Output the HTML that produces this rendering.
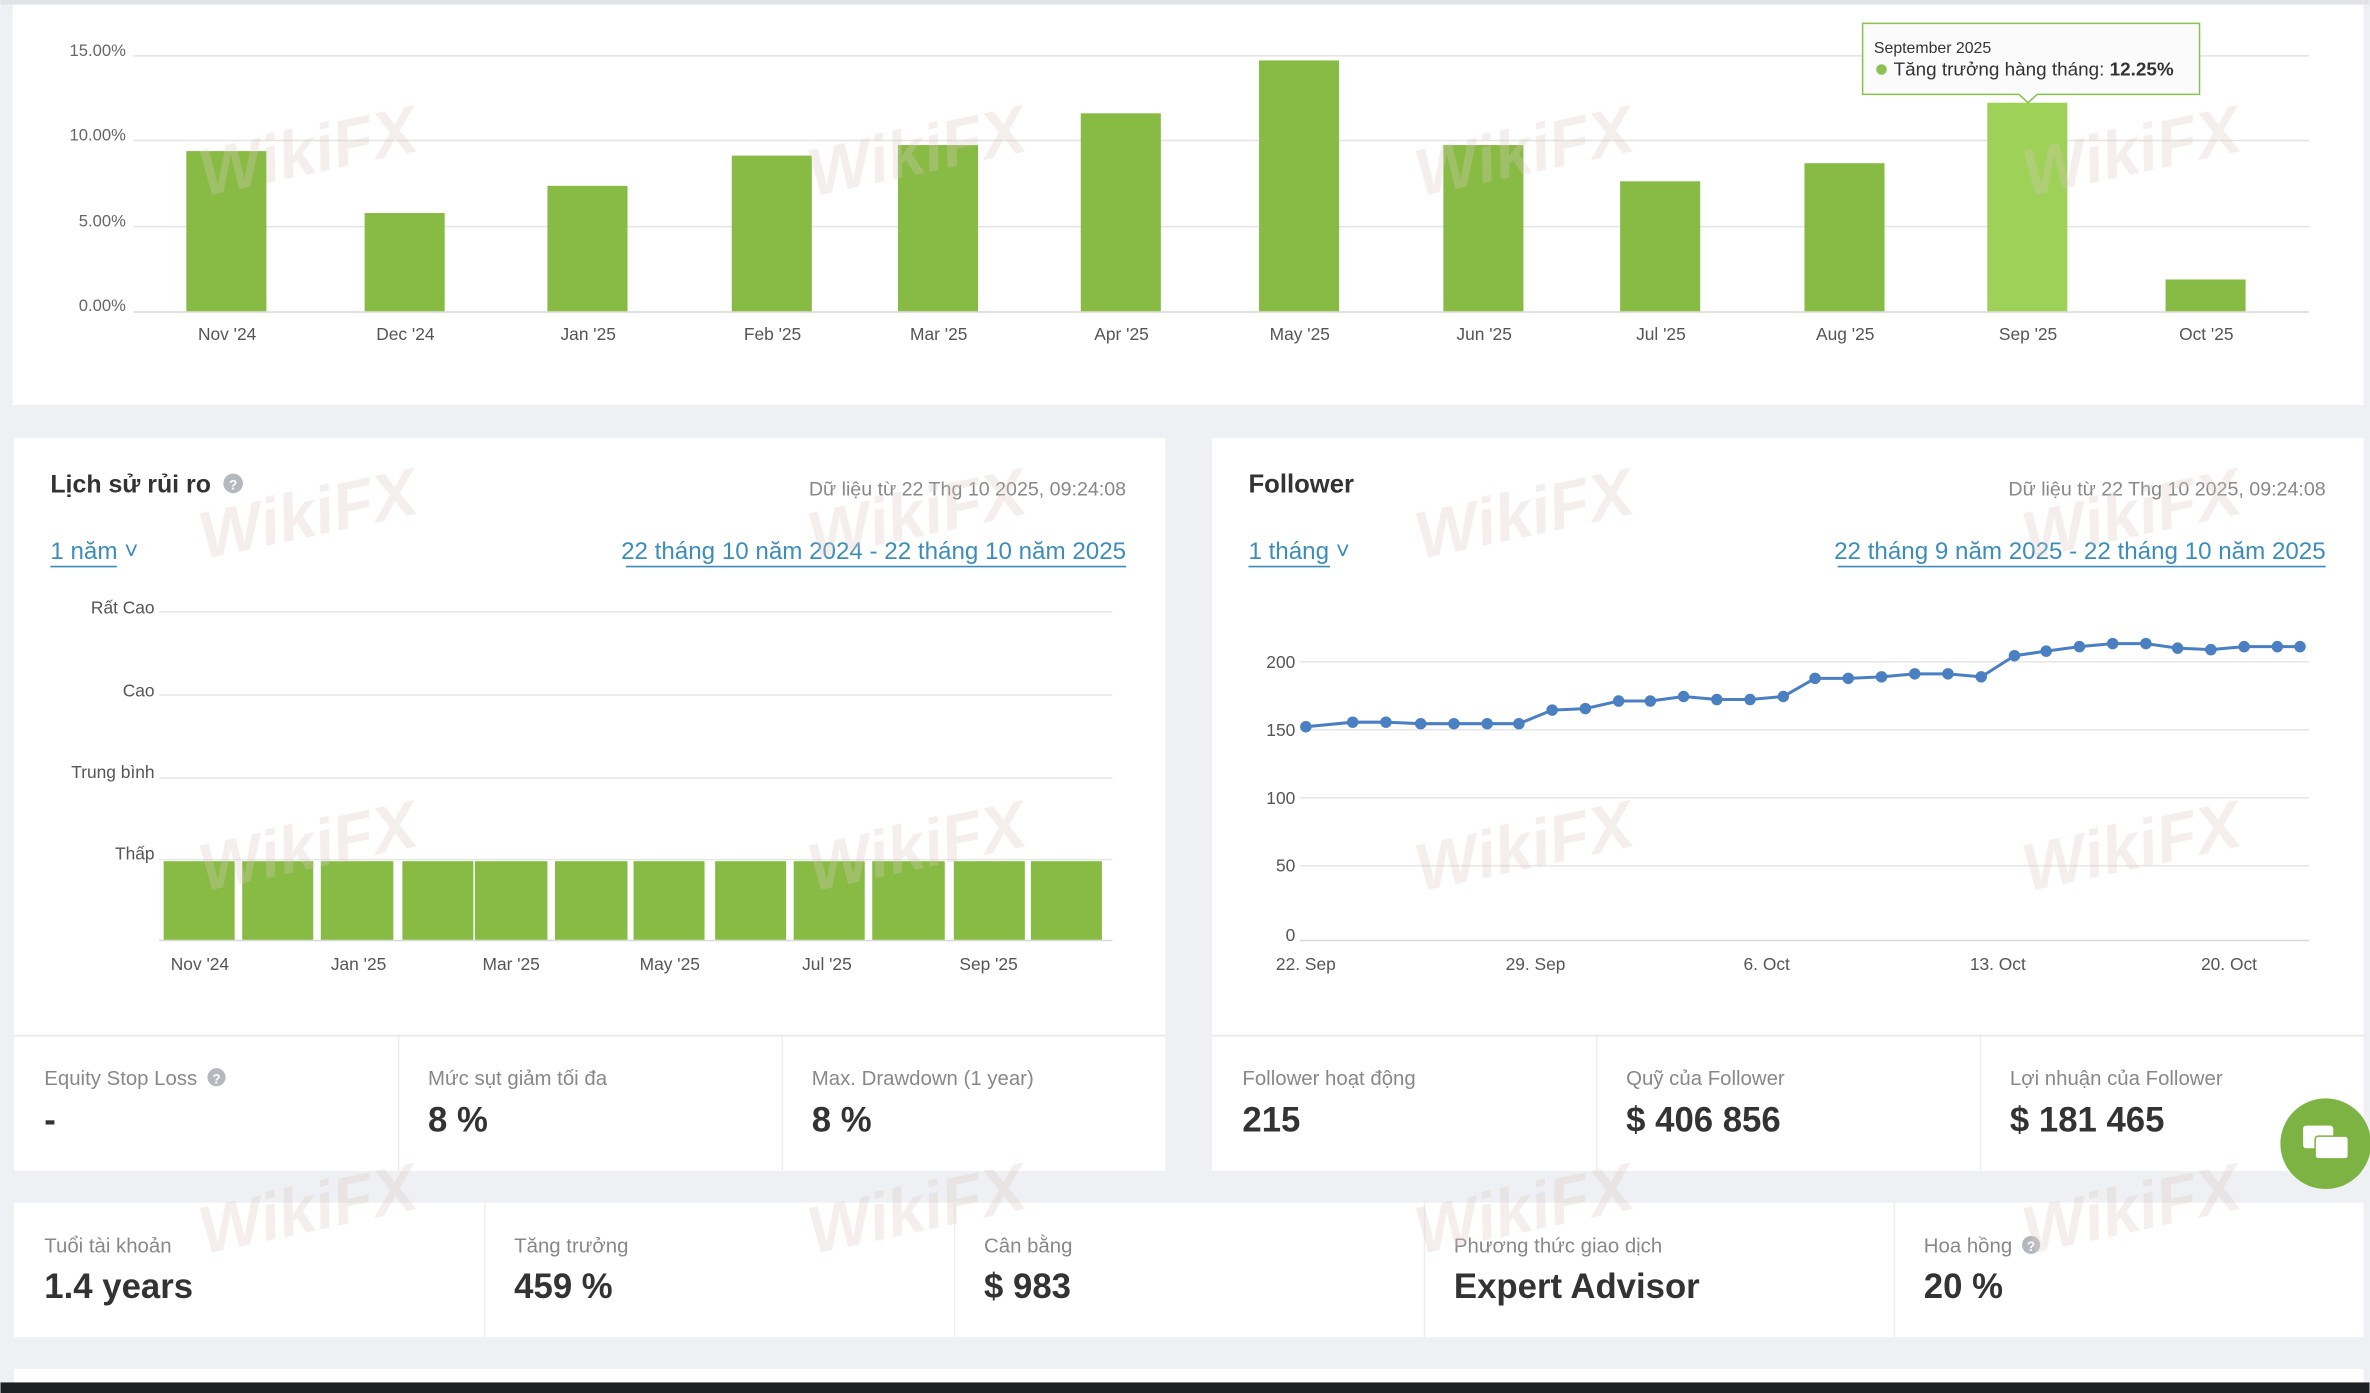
<!DOCTYPE html>
<html><head><meta charset="utf-8"><style>
html,body{margin:0;padding:0;background:#eef0f4;}
svg{display:block}
text{font-family:"Liberation Sans",sans-serif;}
</style></head><body>
<svg width="2370" height="1393" viewBox="0 0 1568 922" xmlns="http://www.w3.org/2000/svg">
<rect width="1568" height="922" fill="#eef0f4"/>
<rect x="8" y="0" width="1556" height="268" fill="#fff"/>
<rect x="0" y="0" width="1568" height="3" fill="#e2e3e6"/>
<g stroke="#e3e3e3" stroke-width="1">
<line x1="88" y1="37" x2="1528" y2="37"/><line x1="88" y1="93" x2="1528" y2="93"/>
<line x1="88" y1="150" x2="1528" y2="150"/><line x1="88" y1="206.5" x2="1528" y2="206.5" stroke="#d8d8d8"/>
</g>
<g font-size="11" fill="#666" text-anchor="end">
<text x="83" y="37">15.00%</text><text x="83" y="93">10.00%</text><text x="83" y="150">5.00%</text><text x="83" y="206">0.00%</text>
</g>
<g fill="#87bb44">
<rect x="123" y="100" width="53" height="106"/>
<rect x="241" y="141" width="53" height="65"/>
<rect x="362" y="123" width="53" height="83"/>
<rect x="484" y="103" width="53" height="103"/>
<rect x="594" y="96" width="53" height="110"/>
<rect x="715" y="75" width="53" height="131"/>
<rect x="833" y="40" width="53" height="166"/>
<rect x="955" y="96" width="53" height="110"/>
<rect x="1072" y="120" width="53" height="86"/>
<rect x="1194" y="108" width="53" height="98"/>
<rect x="1315" y="68" width="53" height="138" fill="#9dd157"/>
<rect x="1433" y="185" width="53" height="21"/>
</g>
<g font-size="11.5" fill="#555" text-anchor="middle">
<text x="150" y="225">Nov '24</text><text x="268" y="225">Dec '24</text><text x="389" y="225">Jan '25</text><text x="511" y="225">Feb '25</text><text x="621" y="225">Mar '25</text><text x="742" y="225">Apr '25</text><text x="860" y="225">May '25</text><text x="982" y="225">Jun '25</text><text x="1099" y="225">Jul '25</text><text x="1221" y="225">Aug '25</text><text x="1342" y="225">Sep '25</text><text x="1460" y="225">Oct '25</text>
</g>
<path d="M1232.5 15.5 H1455.5 V62.5 H1348 L1342 68 L1336 62.5 H1232.5 Z" fill="#fbfbfb" stroke="#8cc152" stroke-width="1"/>
<text x="1240" y="35" font-size="10.5" fill="#333">September 2025</text>
<circle cx="1245" cy="46" r="3.5" fill="#8cc152"/>
<text x="1253" y="50" font-size="12.5" fill="#333">Tăng trưởng hàng tháng: <tspan font-weight="bold">12.25%</tspan></text>

<rect x="9" y="290" width="762" height="485" fill="#fff"/>
<text x="33" y="326" font-size="16.5" fill="#333" font-weight="bold">Lịch sử rủi ro</text>
<circle cx="154" cy="320" r="6.5" fill="#b5b9bf"/><text x="154" y="324" font-size="9" fill="#fff" text-anchor="middle" font-weight="bold">?</text>
<text x="745" y="328" font-size="13" fill="#888" text-anchor="end">Dữ liệu từ 22 Thg 10 2025, 09:24:08</text>
<text x="33" y="370" font-size="16" fill="#3c8dbc">1 năm ˅</text>
<line x1="33" y1="375" x2="77" y2="375" stroke="#3c8dbc"/>
<text x="745" y="370" font-size="16" fill="#3c8dbc" text-anchor="end">22 tháng 10 năm 2024 - 22 tháng 10 năm 2025</text>
<line x1="414" y1="375" x2="745" y2="375" stroke="#3c8dbc"/>
<g stroke="#e6e6e6"><line x1="105" y1="405" x2="736" y2="405"/><line x1="105" y1="460" x2="736" y2="460"/><line x1="105" y1="515" x2="736" y2="515"/><line x1="105" y1="569" x2="736" y2="569"/><line x1="105" y1="622.5" x2="736" y2="622.5" stroke="#d8d8d8"/></g>
<g font-size="11.5" fill="#555" text-anchor="end"><text x="102" y="406">Rất Cao</text><text x="102" y="461">Cao</text><text x="102" y="515">Trung bình</text><text x="102" y="569">Thấp</text></g>
<g fill="#87bb44">
<rect x="108" y="570" width="47" height="52"/><rect x="160" y="570" width="47" height="52"/><rect x="212" y="570" width="48" height="52"/><rect x="266" y="570" width="47" height="52"/><rect x="314" y="570" width="48" height="52"/><rect x="367" y="570" width="48" height="52"/><rect x="419" y="570" width="47" height="52"/><rect x="473" y="570" width="47" height="52"/><rect x="525" y="570" width="47" height="52"/><rect x="577" y="570" width="48" height="52"/><rect x="631" y="570" width="47" height="52"/><rect x="682" y="570" width="47" height="52"/>
</g>
<g font-size="11.5" fill="#555" text-anchor="middle"><text x="132" y="642">Nov '24</text><text x="237" y="642">Jan '25</text><text x="338" y="642">Mar '25</text><text x="443" y="642">May '25</text><text x="547" y="642">Jul '25</text><text x="654" y="642">Sep '25</text></g>
<line x1="9" y1="685.5" x2="771" y2="685.5" stroke="#e8e8e8"/>
<line x1="263.5" y1="686" x2="263.5" y2="775" stroke="#eee"/><line x1="517.5" y1="686" x2="517.5" y2="775" stroke="#eee"/>
<g font-size="13.5" fill="#888"><text x="29" y="718">Equity Stop Loss</text><text x="283" y="718">Mức sụt giảm tối đa</text><text x="537" y="718">Max. Drawdown (1 year)</text></g>
<circle cx="143" cy="713" r="6" fill="#b5b9bf"/><text x="143" y="717" font-size="9" fill="#fff" text-anchor="middle" font-weight="bold">?</text>
<g font-size="23" fill="#333" font-weight="bold"><text x="29" y="749">-</text><text x="283" y="749">8 %</text><text x="537" y="749">8 %</text></g>

<rect x="802" y="290" width="762" height="485" fill="#fff"/>
<text x="826" y="326" font-size="17" fill="#333" font-weight="bold">Follower</text>
<text x="1539" y="328" font-size="13" fill="#888" text-anchor="end">Dữ liệu từ 22 Thg 10 2025, 09:24:08</text>
<text x="826" y="370" font-size="16" fill="#3c8dbc">1 tháng ˅</text>
<line x1="826" y1="375" x2="880" y2="375" stroke="#3c8dbc"/>
<text x="1539" y="370" font-size="16" fill="#3c8dbc" text-anchor="end">22 tháng 9 năm 2025 - 22 tháng 10 năm 2025</text>
<line x1="1216" y1="375" x2="1539" y2="375" stroke="#3c8dbc"/>
<g stroke="#e6e6e6"><line x1="860" y1="438" x2="1528" y2="438"/><line x1="860" y1="483" x2="1528" y2="483"/><line x1="860" y1="528" x2="1528" y2="528"/><line x1="860" y1="573" x2="1528" y2="573"/><line x1="860" y1="622.5" x2="1528" y2="622.5" stroke="#d8d8d8"/></g>
<g font-size="11.5" fill="#555" text-anchor="end"><text x="857" y="442">200</text><text x="857" y="487">150</text><text x="857" y="532">100</text><text x="857" y="577">50</text><text x="857" y="623">0</text></g>
<g font-size="11.5" fill="#555" text-anchor="middle"><text x="864" y="642">22. Sep</text><text x="1016" y="642">29. Sep</text><text x="1169" y="642">6. Oct</text><text x="1322" y="642">13. Oct</text><text x="1475" y="642">20. Oct</text></g>
<polyline fill="none" stroke="#4a7fc1" stroke-width="2" points="864,481 895,478 917,478 940,479 962,479 984,479 1005,479 1027,470 1049,469 1071,464 1092,464 1114,461 1136,463 1158,463 1180,461 1201,449 1223,449 1245,448 1267,446 1289,446 1311,448 1333,434 1354,431 1376,428 1398,426 1420,426 1441,429 1463,430 1485,428 1507,428 1522,428"/>
<g fill="#4a7fc1">
<circle cx="864" cy="481" r="3.8"/><circle cx="895" cy="478" r="3.8"/><circle cx="917" cy="478" r="3.8"/><circle cx="940" cy="479" r="3.8"/><circle cx="962" cy="479" r="3.8"/><circle cx="984" cy="479" r="3.8"/><circle cx="1005" cy="479" r="3.8"/><circle cx="1027" cy="470" r="3.8"/><circle cx="1049" cy="469" r="3.8"/><circle cx="1071" cy="464" r="3.8"/><circle cx="1092" cy="464" r="3.8"/><circle cx="1114" cy="461" r="3.8"/><circle cx="1136" cy="463" r="3.8"/><circle cx="1158" cy="463" r="3.8"/><circle cx="1180" cy="461" r="3.8"/><circle cx="1201" cy="449" r="3.8"/><circle cx="1223" cy="449" r="3.8"/><circle cx="1245" cy="448" r="3.8"/><circle cx="1267" cy="446" r="3.8"/><circle cx="1289" cy="446" r="3.8"/><circle cx="1311" cy="448" r="3.8"/><circle cx="1333" cy="434" r="3.8"/><circle cx="1354" cy="431" r="3.8"/><circle cx="1376" cy="428" r="3.8"/><circle cx="1398" cy="426" r="3.8"/><circle cx="1420" cy="426" r="3.8"/><circle cx="1441" cy="429" r="3.8"/><circle cx="1463" cy="430" r="3.8"/><circle cx="1485" cy="428" r="3.8"/><circle cx="1507" cy="428" r="3.8"/><circle cx="1522" cy="428" r="3.8"/>
</g>
<line x1="802" y1="685.5" x2="1564" y2="685.5" stroke="#e8e8e8"/>
<line x1="1056.5" y1="686" x2="1056.5" y2="775" stroke="#eee"/><line x1="1310.5" y1="686" x2="1310.5" y2="775" stroke="#eee"/>
<g font-size="13.5" fill="#888"><text x="822" y="718">Follower hoạt động</text><text x="1076" y="718">Quỹ của Follower</text><text x="1330" y="718">Lợi nhuận của Follower</text></g>
<g font-size="23" fill="#333" font-weight="bold"><text x="822" y="749">215</text><text x="1076" y="749">$ 406 856</text><text x="1330" y="749">$ 181 465</text></g>

<rect x="9" y="796" width="1555" height="89" fill="#fff"/>
<g stroke="#eee"><line x1="320.5" y1="796" x2="320.5" y2="885"/><line x1="631.5" y1="796" x2="631.5" y2="885"/><line x1="942.5" y1="796" x2="942.5" y2="885"/><line x1="1253.5" y1="796" x2="1253.5" y2="885"/></g>
<g font-size="13.5" fill="#888"><text x="29" y="829">Tuổi tài khoản</text><text x="340" y="829">Tăng trưởng</text><text x="651" y="829">Cân bằng</text><text x="962" y="829">Phương thức giao dịch</text><text x="1273" y="829">Hoa hồng</text></g>
<circle cx="1344" cy="824" r="6" fill="#b5b9bf"/><text x="1344" y="828" font-size="9" fill="#fff" text-anchor="middle" font-weight="bold">?</text>
<g font-size="23" fill="#333" font-weight="bold"><text x="29" y="859">1.4 years</text><text x="340" y="859">459 %</text><text x="651" y="859">$ 983</text><text x="962" y="859">Expert Advisor</text><text x="1273" y="859">20 %</text></g>

<rect x="9" y="906" width="1555" height="10" fill="#fff"/>
<rect x="0" y="915" width="1568" height="7" fill="#1e2022"/>

<circle cx="1539" cy="757" r="30" fill="#7cb342"/>
<rect x="1524" y="745" width="20" height="15" rx="2" fill="#fff"/>
<rect x="1532" y="752" width="22" height="15" rx="2" fill="#fff" stroke="#7cb342"/>

<g fill="#d9c8c0" opacity="0.3" font-size="44" font-weight="bold" font-style="italic">
<text x="135" y="130" transform="rotate(-12 135 130)">WikiFX</text>
<text x="538" y="130" transform="rotate(-12 538 130)">WikiFX</text>
<text x="940" y="130" transform="rotate(-12 940 130)">WikiFX</text>
<text x="1342" y="130" transform="rotate(-12 1342 130)">WikiFX</text>
<text x="135" y="370" transform="rotate(-12 135 370)">WikiFX</text>
<text x="538" y="370" transform="rotate(-12 538 370)">WikiFX</text>
<text x="940" y="370" transform="rotate(-12 940 370)">WikiFX</text>
<text x="1342" y="370" transform="rotate(-12 1342 370)">WikiFX</text>
<text x="135" y="590" transform="rotate(-12 135 590)">WikiFX</text>
<text x="538" y="590" transform="rotate(-12 538 590)">WikiFX</text>
<text x="940" y="590" transform="rotate(-12 940 590)">WikiFX</text>
<text x="1342" y="590" transform="rotate(-12 1342 590)">WikiFX</text>
<text x="135" y="830" transform="rotate(-12 135 830)">WikiFX</text>
<text x="538" y="830" transform="rotate(-12 538 830)">WikiFX</text>
<text x="940" y="830" transform="rotate(-12 940 830)">WikiFX</text>
<text x="1342" y="830" transform="rotate(-12 1342 830)">WikiFX</text>
</g>
</svg>
</body></html>
